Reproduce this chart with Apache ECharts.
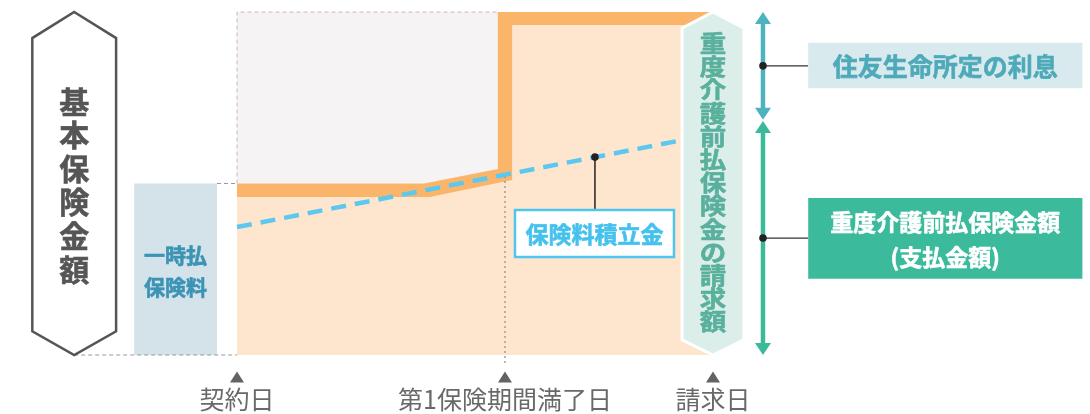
<!DOCTYPE html>
<html><head><meta charset="utf-8">
<script src="https://cdn.jsdelivr.net/npm/echarts@6/dist/echarts.min.js"></script>
<style>html,body{margin:0;padding:0;background:#fff}#c{width:1090px;height:414px}</style>
</head><body><div id="c"></div>
<script>
// ---- data (time axis: 0 = 契約日 … 100 = 請求日; amount axis: 0 … 100, 50 = 基本保険金額) ----
const dateValues = [0, 56.3, 100];
const dateLabels = ['契約日', '第1保険期間満了日', '請求日'];
const basicAmount = 50;
const totalOuter = [[0, 50], [39.3, 50], [54.8, 54.2], [54.8, 100], [100, 100]];
const totalInner = [[0, 46.1], [40.5, 46.1], [57.8, 51], [57.8, 96.2], [100, 96.2]];
const reserveLine = [[0, 37.3], [93.7, 62.7]];
const premiumRange = [-21.6, -4.2];
const interestRange = [100, 68.6];
const paymentRange = [68.2, 0];
const titleLeft = '基本保険金額';
const premiumText = '一時払\n保険料';
const reserveText = '保険料積立金';
const claimText = '重度介護前払保険金の請求額';
const interestText = '住友生命所定の利息';
const paymentText = '重度介護前払保険金額\n(支払金額)';

const FONT = '"Noto Sans CJK JP","Noto Sans",sans-serif';
const chart = echarts.init(document.getElementById('c'), null, {renderer: 'canvas'});

function once(fn) {
  return function (params, api) { return params.dataIndex === 0 ? fn(api) : null; };
}
function custom(z, data, fn) {
  return {type: 'custom', z: z, clip: false, silent: true, animation: false,
          data: data, renderItem: once(fn)};
}
function vtext(s) { return s.split('').join('\n'); }
function boldText(txt, x, y, color, fs, lh, sx) {
  return {type: 'text', x: x, y: y, scaleX: sx || 1, scaleY: 1,
    style: {text: txt, x: 0, y: 0, align: 'center', verticalAlign: 'middle', fill: color,
      stroke: color, lineWidth: 0.6, fontSize: fs, fontWeight: 'bold', fontFamily: FONT, lineHeight: lh || fs * 1.3}};
}

const closeDown = pts => pts.concat([[pts[pts.length - 1][0], 0], [pts[0][0], 0]]);

const series = [
  custom(1, [[0, basicAmount]], api => {
    const a = api.coord([0, 100]), b = api.coord([totalOuter[2][0], basicAmount]);
    return {type: 'group', children: [
      {type: 'rect', shape: {x: a[0], y: a[1], width: b[0] - a[0], height: b[1] - a[1]}, style: {fill: '#f5f3f4'}},
      {type: 'polyline', shape: {points: [[a[0], b[1]], [a[0], a[1]], [b[0], a[1]]]},
       style: {stroke: '#cdb9b9', lineWidth: 1, lineDash: [4, 3], fill: null}}
    ]};
  }),
  custom(2, closeDown(totalOuter), api => ({type: 'polygon',
    shape: {points: closeDown(totalOuter).map(p => api.coord(p))}, style: {fill: '#fbb56b'}})),
  custom(3, closeDown(totalInner), api => ({type: 'polygon',
    shape: {points: closeDown(totalInner).map(p => api.coord(p))}, style: {fill: '#fde6cd'}})),
  custom(3, [[premiumRange[0], basicAmount]], api => {
    const a = api.coord([premiumRange[0], basicAmount]), b = api.coord([premiumRange[1], 0]);
    return {type: 'group', children: [
      {type: 'rect', shape: {x: a[0], y: a[1], width: b[0] - a[0], height: b[1] - a[1]}, style: {fill: '#d4e2ea'}},
      boldText(premiumText, (a[0] + b[0]) / 2, (a[1] + b[1]) / 2 + 2, '#3b93b5', 21, 32)
    ]};
  }),
  custom(4, [[0, basicAmount]], api => {
    const p0 = api.coord([premiumRange[1], basicAmount]), p1 = api.coord([0, basicAmount]);
    const q0 = api.coord([-34.2, 0]), q1 = api.coord([0, 0]);
    const d0 = api.coord([dateValues[1], 52.2]), d1 = api.coord([dateValues[1], -3]);
    return {type: 'group', children: [
      {type: 'line', shape: {x1: p0[0], y1: p0[1], x2: p1[0], y2: p1[1]}, style: {stroke: '#999', lineWidth: 1, lineDash: [4, 3]}},
      {type: 'line', shape: {x1: q0[0], y1: q0[1], x2: q1[0], y2: q1[1]}, style: {stroke: '#999', lineWidth: 1, lineDash: [4, 3]}},
      {type: 'line', shape: {x1: d0[0], y1: d0[1], x2: d1[0], y2: d1[1]}, style: {stroke: '#8a8a8a', lineWidth: 1.2, lineDash: [2, 3]}}
    ]};
  }),
  {type: 'line', z: 5, data: reserveLine, symbol: 'none', silent: true, animation: false,
   lineStyle: {color: '#5cc8f0', width: 4.5, type: [15, 9]}},
  custom(6, [[75.2, 57.7]], api => {
    const dot = api.coord([75.2, 57.7]);
    const a = api.coord([58.4, 42.3]), b = api.coord([91.8, 28.6]);
    return {type: 'group', children: [
      {type: 'line', shape: {x1: dot[0], y1: dot[1], x2: dot[0], y2: a[1]}, style: {stroke: '#222', lineWidth: 1.5}},
      {type: 'circle', shape: {cx: dot[0], cy: dot[1], r: 3.8}, style: {fill: '#222'}},
      {type: 'rect', shape: {x: a[0], y: a[1], width: b[0] - a[0], height: b[1] - a[1]},
       style: {fill: '#fff', stroke: '#4fc6f0', lineWidth: 2.5}},
      boldText(reserveText, (a[0] + b[0]) / 2, (a[1] + b[1]) / 2 + 1, '#45c1ee', 23)
    ]};
  }),
  custom(7, [[dateValues[2], 50]], api => {
    const cx = dateValues[2];
    const pts = [[cx, 100], [cx + 6.5, 95.3], [cx + 6.5, 4.4], [cx, 0], [cx - 6.5, 4.4], [cx - 6.5, 95.3]].map(p => api.coord(p));
    const c = api.coord([cx, 50.3]);
    return {type: 'group', children: [
      {type: 'polygon', shape: {points: pts}, style: {fill: '#dceeea', stroke: '#fff', lineWidth: 3}},
      boldText(vtext(claimText), c[0], c[1], '#58b09d', 23, 23.2, 1.15)
    ]};
  }),
  custom(7, [[-34.2, 50]], api => {
    const cx = -34.2;
    const pts = [[cx, 100], [cx + 8.8, 92.4], [cx + 8.8, 6.9], [cx, 0], [cx - 8.8, 6.9], [cx - 8.8, 92.4]].map(p => api.coord(p));
    const c = api.coord([cx, 50.1]);
    return {type: 'group', children: [
      {type: 'polygon', shape: {points: pts}, style: {fill: '#fff', stroke: '#555', lineWidth: 2.5}},
      boldText(vtext(titleLeft), c[0], c[1] + 2, '#555', 30, 33.6)
    ]};
  }),
  custom(8, [[110.5, interestRange[0]]], api => {
    const x = 110.5;
    function arrow(r, color) {
      const t = api.coord([x, r[0]]), b = api.coord([x, r[1]]);
      const hw = 8, hh = 12;
      return [
        {type: 'line', shape: {x1: t[0], y1: t[1] + hh - 1, x2: b[0], y2: b[1] - hh + 1}, style: {stroke: color, lineWidth: 4.5}},
        {type: 'polygon', shape: {points: [[t[0], t[1]], [t[0] + hw, t[1] + hh], [t[0] - hw, t[1] + hh]]}, style: {fill: color}},
        {type: 'polygon', shape: {points: [[b[0], b[1]], [b[0] + hw, b[1] - hh], [b[0] - hw, b[1] - hh]]}, style: {fill: color}}
      ];
    }
    function label(yv, box, fill, color, txt, fs, lh) {
      const d = api.coord([x, yv]);
      const a = api.coord([120, box[0]]), b = api.coord([177.6, box[1]]);
      return [
        {type: 'line', shape: {x1: d[0], y1: d[1], x2: a[0], y2: d[1]}, style: {stroke: '#333', lineWidth: 1.2}},
        {type: 'circle', shape: {cx: d[0], cy: d[1], r: 3.8}, style: {fill: '#222'}},
        {type: 'rect', shape: {x: a[0], y: a[1], width: b[0] - a[0], height: b[1] - a[1]}, style: {fill: fill}},
        boldText(txt, (a[0] + b[0]) / 2, (a[1] + b[1]) / 2 + 1, color, fs, lh)
      ];
    }
    return {type: 'group', children: [].concat(
      arrow(interestRange, '#4db3bf'),
      arrow(paymentRange, '#3bba9b'),
      label(84.3, [91, 77.8], '#d8eaee', '#4eaab9', interestText, 25, 30),
      label(34.1, [45.8, 22.2], '#3bbb9c', '#fff', paymentText, 23, 35)
    )};
  }),
  {type: 'scatter', z: 8, silent: true, animation: false, clip: false,
   data: dateValues.map(v => [v, -6.4]), symbol: 'triangle', symbolSize: [14, 11],
   itemStyle: {color: '#3c3c3c'},
   label: {show: true, position: 'bottom', distance: 5, formatter: p => dateLabels[p.dataIndex],
     color: '#444', fontSize: 25, fontFamily: FONT}}
];

chart.setOption({
  animation: false,
  grid: {left: 237, right: 377, top: 12, bottom: 59},
  xAxis: {type: 'value', min: 0, max: 100, show: false},
  yAxis: {type: 'value', min: 0, max: 100, show: false},
  series: series
});
</script></body></html>
